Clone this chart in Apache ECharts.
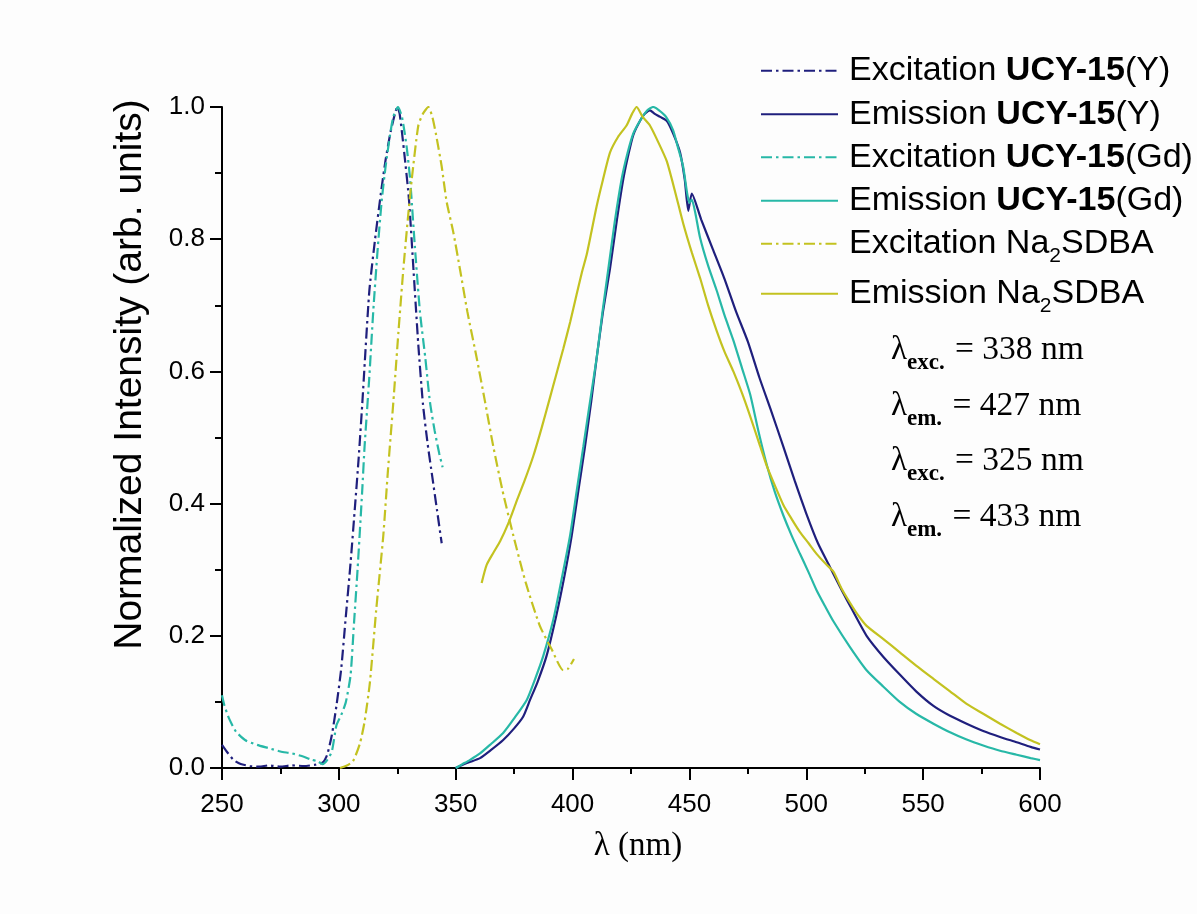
<!DOCTYPE html>
<html>
<head>
<meta charset="utf-8">
<script src="https://cdn.jsdelivr.net/npm/echarts@6/dist/echarts.min.js"></script>
<style>html,body{margin:0;padding:0;background:#fdfdfd;}#c{width:1197px;height:914px;}</style>
</head>
<body>
<div id="c"></div>
<script>
// ---- Data ----
const xTicks = [250, 300, 350, 400, 450, 500, 550, 600];
const yTicks = [0.0, 0.2, 0.4, 0.6, 0.8, 1.0];

const excY_wl  = [250, 252, 255, 258, 262, 266, 270, 275, 280, 285, 290, 293, 295, 297, 299, 301, 303, 305, 307, 308.5, 310, 313, 315.5, 318, 320, 322, 324, 325, 326, 328, 330, 332, 334, 336, 338, 340, 342, 344];
const excY_int = [0.035, 0.025, 0.012, 0.006, 0.003, 0.002, 0.004, 0.002, 0.004, 0.003, 0.005, 0.008, 0.02, 0.05, 0.095, 0.15, 0.23, 0.31, 0.40, 0.47, 0.55, 0.72, 0.80, 0.87, 0.92, 0.96, 0.99, 1.0, 0.99, 0.93, 0.86, 0.75, 0.64, 0.55, 0.49, 0.44, 0.39, 0.34];

const emY_wl  = [350, 353, 356, 360.4, 365, 370.2, 375, 378.9, 381.8, 385, 388.9, 393, 396.5, 399.6, 402.5, 405.3, 408, 410.3, 413, 416, 419, 421.7, 424, 426, 429, 431, 433.1, 435, 437.5, 440.3, 443, 446, 448, 449.5, 451, 455, 460, 465, 470, 475, 480, 485, 490, 495, 500, 505, 510, 515, 520, 525.8, 533, 540.1, 547, 554.4, 561.5, 568.6, 575.7, 582.9, 590, 596, 600];
const emY_int = [0.0, 0.005, 0.009, 0.015, 0.027, 0.042, 0.06, 0.078, 0.103, 0.13, 0.17, 0.23, 0.29, 0.351, 0.42, 0.486, 0.555, 0.62, 0.69, 0.755, 0.83, 0.891, 0.93, 0.958, 0.98, 0.99, 0.995, 0.99, 0.985, 0.979, 0.96, 0.931, 0.89, 0.843, 0.869, 0.83, 0.785, 0.74, 0.69, 0.645, 0.59, 0.54, 0.488, 0.435, 0.385, 0.34, 0.305, 0.27, 0.237, 0.2, 0.168, 0.141, 0.116, 0.094, 0.079, 0.067, 0.056, 0.047, 0.039, 0.032, 0.028];

const excGd_wl  = [250, 251, 253, 256, 260, 265, 270, 275, 280, 285, 288, 291, 293, 295, 297, 299, 301, 303, 305, 306.5, 308, 310, 311, 313, 314.7, 316.5, 318.3, 320, 322, 323.3, 325.3, 327, 329, 330.5, 332.5, 334.7, 337, 339, 341, 343, 344.4];
const excGd_int = [0.11, 0.095, 0.075, 0.055, 0.042, 0.035, 0.03, 0.025, 0.022, 0.017, 0.013, 0.01, 0.006, 0.012, 0.025, 0.065, 0.08, 0.10, 0.14, 0.22, 0.30, 0.42, 0.486, 0.59, 0.69, 0.78, 0.857, 0.91, 0.96, 0.985, 1.0, 0.985, 0.94, 0.89, 0.79, 0.69, 0.62, 0.553, 0.51, 0.475, 0.455];

const emGd_wl  = [350, 353, 356, 360.4, 365, 370.3, 375, 380.4, 384, 387.5, 391.8, 395, 398.9, 401.8, 404.6, 407.5, 410.3, 412.8, 415.3, 418, 421, 423.5, 426, 429, 432, 434.5, 437, 440, 443, 445, 447.3, 449, 450, 451, 452.5, 454.5, 458, 461.7, 465, 468.8, 472.5, 476, 479.5, 483, 486.5, 490.2, 493.7, 497.3, 501, 504.4, 508, 511.6, 518.7, 525.8, 533, 540, 547, 554.4, 561.5, 568.6, 575.7, 582.9, 590, 596, 600];
const emGd_int = [0.0, 0.006, 0.012, 0.022, 0.036, 0.053, 0.075, 0.103, 0.135, 0.17, 0.225, 0.28, 0.351, 0.42, 0.486, 0.555, 0.62, 0.69, 0.755, 0.825, 0.891, 0.93, 0.96, 0.98, 0.995, 1.0, 0.995, 0.985, 0.965, 0.94, 0.91, 0.87, 0.855, 0.86, 0.84, 0.803, 0.76, 0.722, 0.685, 0.647, 0.605, 0.565, 0.51, 0.46, 0.418, 0.382, 0.352, 0.324, 0.296, 0.269, 0.245, 0.222, 0.183, 0.148, 0.123, 0.10, 0.082, 0.067, 0.054, 0.043, 0.034, 0.026, 0.02, 0.015, 0.012];

const excNa_wl  = [300.5, 303, 306, 309, 311, 313.3, 316, 319, 321, 323.3, 325.5, 327.6, 329.5, 331.2, 334, 336, 338.3, 340, 341.6, 344, 346.1, 349, 351.8, 355, 359, 362.5, 366.1, 370, 374.7, 380, 386, 391, 396, 398, 400.6];
const excNa_int = [0.0, 0.003, 0.01, 0.037, 0.07, 0.13, 0.24, 0.351, 0.45, 0.553, 0.66, 0.755, 0.83, 0.891, 0.972, 0.99, 1.0, 0.985, 0.958, 0.91, 0.857, 0.81, 0.755, 0.69, 0.62, 0.555, 0.486, 0.42, 0.351, 0.28, 0.215, 0.18, 0.148, 0.15, 0.165];

const emNa_wl  = [361.1, 363.2, 366, 369, 372.5, 376.1, 379.5, 383.2, 386.8, 390.3, 393, 396, 399, 401.7, 404, 406, 408, 410.3, 413, 416, 419.5, 423.1, 425.5, 427.4, 430, 433.1, 436.5, 440.3, 444, 447.4, 451, 454.5, 458, 461.7, 465, 468.8, 472.5, 475.9, 479.5, 483, 486.5, 490.2, 493.7, 497.3, 501, 504.4, 508, 511.6, 515, 518.7, 522, 525.8, 533, 540, 547, 554.4, 561.5, 568.6, 575.7, 582.9, 590, 596, 600];
const emNa_int = [0.28, 0.307, 0.325, 0.343, 0.37, 0.404, 0.435, 0.472, 0.515, 0.56, 0.595, 0.634, 0.675, 0.716, 0.75, 0.776, 0.81, 0.85, 0.89, 0.931, 0.955, 0.972, 0.99, 1.0, 0.985, 0.972, 0.948, 0.918, 0.87, 0.823, 0.78, 0.742, 0.70, 0.661, 0.63, 0.6, 0.567, 0.533, 0.495, 0.458, 0.428, 0.398, 0.377, 0.357, 0.34, 0.324, 0.31, 0.297, 0.272, 0.25, 0.232, 0.215, 0.195, 0.175, 0.155, 0.135, 0.116, 0.097, 0.082, 0.067, 0.053, 0.042, 0.036];

const seriesNames = ['Excitation UCY-15(Y)', 'Emission UCY-15(Y)', 'Excitation UCY-15(Gd)', 'Emission UCY-15(Gd)', 'Excitation Na2SDBA', 'Emission Na2SDBA'];
const legendRich = {
  'Excitation UCY-15(Y)': '{g| }{n|Excitation }{b|UCY-15}{n|(Y)}',
  'Emission UCY-15(Y)': '{g| }{n|Emission }{b|UCY-15}{n|(Y)}',
  'Excitation UCY-15(Gd)': '{g| }{n|Excitation }{b|UCY-15}{n|(Gd)}',
  'Emission UCY-15(Gd)': '{g| }{n|Emission }{b|UCY-15}{n|(Gd)}',
  'Excitation Na2SDBA': '{g| }{n|Excitation Na}{s|2}{n|SDBA}',
  'Emission Na2SDBA': '{g| }{n|Emission Na}{s|2}{n|SDBA}'
};
const annotations = [
  ['exc.', ' = 338 nm'],
  ['em.', ' = 427 nm'],
  ['exc.', ' = 325 nm'],
  ['em.', ' = 433 nm']
];

// ---- Styles ----
const NAVY = '#1f1f7d', TEAL = '#27b8a7', OLIVE = '#c3c220';
const DASHDOT = [11, 4, 2.5, 4];
const zip = (a, b) => a.map((v, i) => [v, b[i]]);
const sans = 'Liberation Sans, Arial, sans-serif';
const serif = 'Liberation Serif, Times New Roman, serif';

function mkSeries(name, wl, inten, color, dashed) {
  return {
    name, type: 'line', data: zip(wl, inten), showSymbol: false, symbol: 'none',
    smooth: 0.2, animation: false,
    lineStyle: { color, width: 2.2, type: dashed ? DASHDOT : 'solid' },
    itemStyle: { color }
  };
}

const legendCenters = [69.3, 112.7, 155.7, 199.3, 241.7, 291.7];
const hasSub = [false, false, false, false, true, true];
const legends = seriesNames.map((n, i) => ({
  data: [n], left: 760, top: legendCenters[i] - (hasSub[i] ? 21.5 : 15.5), padding: 0,
  orient: 'vertical', itemWidth: 77, itemHeight: 14, selectedMode: false,
  itemStyle: { opacity: 0 },
  formatter: name => legendRich[name],
  textStyle: {
    rich: {
      g: { width: 6, fontSize: 34 },
      n: { fontSize: 34, fontFamily: sans, color: '#000' },
      b: { fontSize: 34, fontFamily: sans, color: '#000', fontWeight: 'bold' },
      s: { fontSize: 21, fontFamily: sans, color: '#000', lineHeight: 21, padding: [26, 0, 0, 0] }
    }
  }
}));

const annCenters = [350.5, 406.5, 461.5, 517];
const graphics = annotations.map((a, i) => ({
  type: 'text', x: 891, y: annCenters[i], silent: true,
  style: {
    text: '{l|λ}{s|' + a[0] + '}{n|' + a[1] + '}',
    verticalAlign: 'middle', align: 'left',
    rich: {
      l: { fontSize: 33, fontFamily: serif, color: '#000', lineHeight: 48 },
      n: { fontSize: 33.5, fontFamily: serif, color: '#000', lineHeight: 48 },
      s: { fontSize: 23, fontFamily: serif, fontWeight: 'bold', color: '#000', lineHeight: 23, padding: [26, 2, 0, 0] }
    }
  }
}));

const chart = echarts.init(document.getElementById('c'), null, { renderer: 'canvas' });
chart.setOption({
  backgroundColor: '#fdfdfd',
  animation: false,
  grid: { left: 222, right: 157, top: 107, bottom: 146 },
  legend: legends,
  graphic: graphics,
  xAxis: {
    type: 'value', min: xTicks[0], max: xTicks[xTicks.length - 1], interval: 50,
    name: 'λ (nm)', nameLocation: 'middle', nameGap: 62,
    nameTextStyle: { fontSize: 33, fontFamily: serif, color: '#000', padding: [0, 0, 0, 14] },
    axisLine: { show: true, lineStyle: { color: '#000', width: 2 } },
    axisTick: { show: true, length: 12, lineStyle: { color: '#000', width: 2 } },
    minorTick: { show: true, splitNumber: 2, length: 6, lineStyle: { color: '#000', width: 2 } },
    axisLabel: { fontSize: 26, fontFamily: sans, color: '#000', margin: 24 },
    splitLine: { show: false }
  },
  yAxis: {
    type: 'value', min: yTicks[0], max: yTicks[yTicks.length - 1], interval: 0.2,
    name: 'Normalized Intensity (arb. units)', nameLocation: 'middle', nameGap: 72,
    nameTextStyle: { fontSize: 39, fontFamily: sans, color: '#000', padding: [0, 0, 0, 126] },
    axisLine: { show: true, lineStyle: { color: '#000', width: 2 } },
    axisTick: { show: true, length: 12, lineStyle: { color: '#000', width: 2 } },
    minorTick: { show: true, splitNumber: 2, length: 7, lineStyle: { color: '#000', width: 2 } },
    axisLabel: { fontSize: 26, fontFamily: sans, color: '#000', margin: 17, formatter: v => v.toFixed(1) },
    splitLine: { show: false }
  },
  series: [
    mkSeries(seriesNames[0], excY_wl, excY_int, NAVY, true),
    mkSeries(seriesNames[1], emY_wl, emY_int, NAVY, false),
    mkSeries(seriesNames[2], excGd_wl, excGd_int, TEAL, true),
    mkSeries(seriesNames[3], emGd_wl, emGd_int, TEAL, false),
    mkSeries(seriesNames[4], excNa_wl, excNa_int, OLIVE, true),
    mkSeries(seriesNames[5], emNa_wl, emNa_int, OLIVE, false)
  ]
});
</script>
</body>
</html>
